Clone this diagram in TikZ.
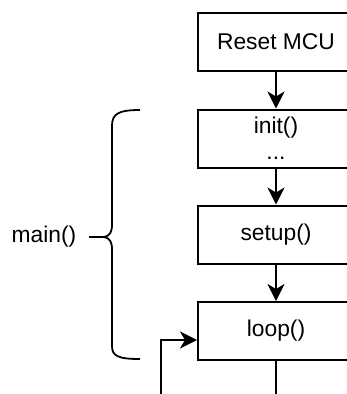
\documentclass[tikz,border=0pt]{standalone}
\usepackage{fontspec}
\setmainfont{Liberation Sans}
\usetikzlibrary{arrows.meta}
\begin{document}
\begin{tikzpicture}[x=1pt,y=-1pt,
  box/.style={draw,line width=2pt,minimum width=156pt,minimum height=58pt,inner sep=0pt,font=\fontsize{22.8}{27}\selectfont,align=center},
  arr/.style={line width=1.8pt,-{Stealth[length=17pt,width=17pt,inset=5pt]}},
  plain/.style={line width=1.8pt}]
\useasboundingbox (0,0) rectangle (347,394);
\clip (0,0) rectangle (347,394);
\node[box] (reset) at (276,42) {Reset MCU};
\node[box] (init) at (276,138.5) {init()\\[-1pt]...};
\node[box] (setup) at (276,234.5) {setup()};
\node[box] (loop) at (276,331) {loop()};
\node[font=\fontsize{22.8}{27}\selectfont] (main) at (44,237) {main()};
\coordinate (tail) at (89,237);
\coordinate (tip) at (104,237);
\coordinate (fb) at (161,400);
\coordinate (out) at (276,400);
\draw[arr] (reset) -- (init);
\draw[arr] (init) -- (setup);
\draw[arr] (setup) -- (loop);
\draw[plain] (loop) -- (out);
\draw[arr] (fb) |- ([yshift=-9pt]loop.west);
\draw[plain] (tail) -- (tip);
\draw[plain] (140,110) .. controls (118,110) and (112,114) .. (112,126) -- (112,224)
  .. controls (112,232) and (110,236) .. (104,237)
  .. controls (110,238) and (112,242) .. (112,250) -- (112,346)
  .. controls (112,356) and (118,359) .. (140,359);
\end{tikzpicture}
\end{document}
